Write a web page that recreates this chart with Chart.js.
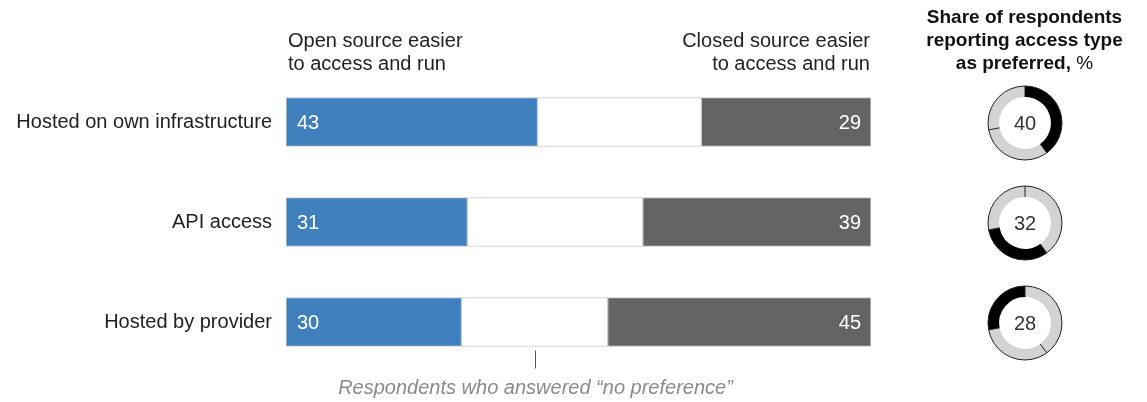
<!DOCTYPE html>
<html>
<head>
<meta charset="utf-8">
<script src="https://cdn.jsdelivr.net/npm/chart.js@4.4.1/dist/chart.umd.min.js"></script>
<style>
  body { margin: 0; background: #fff; font-family: "Liberation Sans", Arial, sans-serif; color: #222; }
  #wrap { position: relative; width: 1147px; height: 402px; overflow: hidden; }
  #bars { position: absolute; left: 0; top: 0; }
  .hdr { position: absolute; font-size: 20px; line-height: 23px; color: #222; }
  .ring { position: absolute; }
  #ttl { position: absolute; left: 904px; top: 5px; width: 241px; text-align: center;
         font-size: 19px; line-height: 23px; font-weight: bold; color: #111; }
  #ttl span { font-weight: normal; }
</style>
</head>
<body>
<div id="wrap">
  <canvas id="bars" width="1147" height="402"></canvas>
  <div class="hdr" style="left:288px;top:29px;">Open source easier<br>to access and run</div>
  <div class="hdr" style="right:277px;top:29px;text-align:right;">Closed source easier<br>to access and run</div>
  <div id="ttl">Share of respondents<br>reporting access type<br>as preferred, <span>%</span></div>
  <canvas class="ring" id="ring0" width="80" height="80" style="left:985px;top:83px;"></canvas>
  <canvas class="ring" id="ring1" width="80" height="80" style="left:985px;top:183px;"></canvas>
  <canvas class="ring" id="ring2" width="80" height="80" style="left:985px;top:283px;"></canvas>
</div>
<script>
var categories   = ['Hosted on own infrastructure', 'API access', 'Hosted by provider'];
var openEasier   = [43, 31, 30];
var noPreference = [28, 30, 25];
var closedEasier = [29, 39, 45];
var preferred    = [40, 32, 28];

var FONT = '"Liberation Sans", Arial, sans-serif';

// numbers inside the blue and grey segments, plus the "no preference" callout
var barLabels = {
  id: 'barLabels',
  afterDatasetsDraw: function(chart) {
    var ctx = chart.ctx,
        open = chart.getDatasetMeta(0).data,
        mid = chart.getDatasetMeta(1).data,
        closed = chart.getDatasetMeta(2).data;

    ctx.save();
    ctx.font = '20px ' + FONT;
    ctx.fillStyle = '#fff';
    ctx.textBaseline = 'middle';
    open.forEach(function(el, i) {
      ctx.textAlign = 'left';
      ctx.fillText(openEasier[i], el.base + 11, el.y + 1);
    });
    closed.forEach(function(el, i) {
      ctx.textAlign = 'right';
      ctx.fillText(closedEasier[i], el.x - 10, el.y + 1);
    });

    var last = mid[mid.length - 1],
        cx = Math.round((last.base + last.x) / 2) + 0.5,
        bottom = last.y + last.height / 2;
    ctx.strokeStyle = '#555';
    ctx.lineWidth = 1;
    ctx.beginPath();
    ctx.moveTo(cx, bottom + 4);
    ctx.lineTo(cx, bottom + 22);
    ctx.stroke();

    ctx.font = 'italic 20px ' + FONT;
    ctx.fillStyle = '#8a8a8a';
    ctx.textAlign = 'center';
    ctx.fillText('Respondents who answered \u201cno preference\u201d', cx, bottom + 42);
    ctx.restore();
  }
};

function segment(label, data, color) {
  return {
    label: label,
    data: data,
    backgroundColor: color,
    borderColor: '#c9c9c9',
    borderWidth: 1,
    borderSkipped: false,
    barThickness: 49
  };
}

new Chart(document.getElementById('bars'), {
  type: 'bar',
  data: {
    labels: categories,
    datasets: [
      segment('Open source easier', openEasier, '#3f7fbd'),
      segment('No preference', noPreference, '#ffffff'),
      segment('Closed source easier', closedEasier, '#646464')
    ]
  },
  options: {
    indexAxis: 'y',
    responsive: false,
    animation: false,
    layout: { padding: { top: 72, bottom: 30, left: 0, right: 276 } },
    scales: {
      x: { stacked: true, min: 0, max: 100, display: false },
      y: {
        stacked: true,
        grid: { display: false },
        border: { display: false },
        ticks: { color: '#222', padding: 6, font: { family: FONT, size: 20 } },
        afterFit: function(scale) { scale.width = 286; }
      }
    },
    plugins: { legend: { display: false }, tooltip: { enabled: false } }
  },
  plugins: [barLabels]
});

// outer outline, segment dividers and the value in the middle of each ring
var ringDecor = {
  id: 'ringDecor',
  afterDatasetsDraw: function(chart) {
    var ctx = chart.ctx,
        arcs = chart.getDatasetMeta(0).data,
        a0 = arcs[0],
        r = a0.outerRadius, ir = a0.innerRadius,
        x = a0.x, y = a0.y;

    ctx.save();
    ctx.strokeStyle = '#222';
    ctx.lineWidth = 1;
    ctx.beginPath();
    ctx.arc(x, y, r, 0, Math.PI * 2);
    ctx.stroke();
    arcs.forEach(function(a) {
      ctx.beginPath();
      ctx.moveTo(x + Math.cos(a.startAngle) * ir, y + Math.sin(a.startAngle) * ir);
      ctx.lineTo(x + Math.cos(a.startAngle) * r, y + Math.sin(a.startAngle) * r);
      ctx.stroke();
    });
    ctx.font = '20px ' + FONT;
    ctx.fillStyle = '#333';
    ctx.textAlign = 'center';
    ctx.textBaseline = 'middle';
    ctx.fillText(chart.options.plugins.ringDecor.value, x, y + 1);
    ctx.restore();
  }
};

preferred.forEach(function(v, i) {
  new Chart(document.getElementById('ring' + i), {
    type: 'doughnut',
    data: {
      labels: categories,
      datasets: [{
        data: preferred,
        backgroundColor: preferred.map(function(_, j) { return j === i ? '#000' : '#d3d3d3'; }),
        borderWidth: 0
      }]
    },
    options: {
      responsive: false,
      animation: false,
      cutout: '70%',
      layout: { padding: 3 },
      plugins: { legend: { display: false }, tooltip: { enabled: false }, ringDecor: { value: v } }
    },
    plugins: [ringDecor]
  });
});
</script>
</body>
</html>
